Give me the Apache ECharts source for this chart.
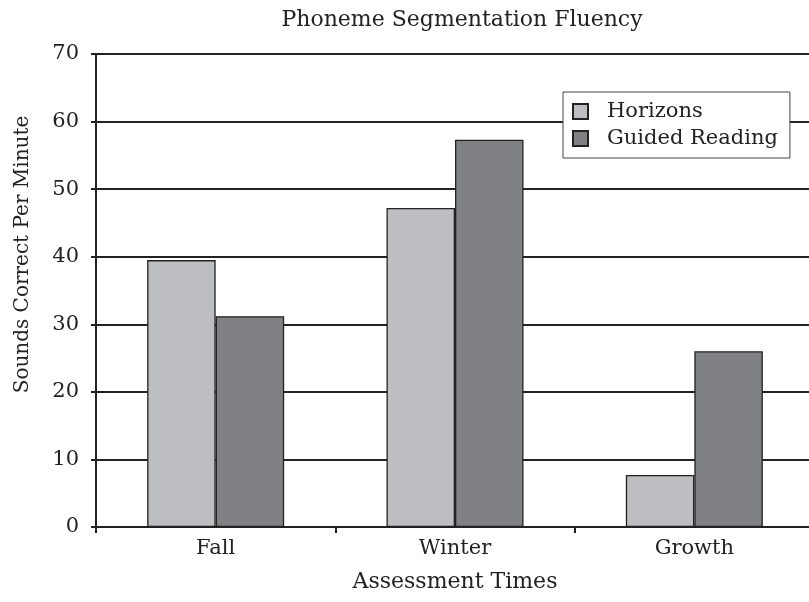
<!DOCTYPE html>
<html><head><meta charset="utf-8">
<script src="https://cdn.jsdelivr.net/npm/echarts@6/dist/echarts.min.js"></script>
<style>html,body{margin:0;padding:0;background:#fff}#c{width:809px;height:602px}</style>
</head><body><div id="c"></div>
<script>
const categories = ['Fall', 'Winter', 'Growth'];
const horizons = [39.5, 47.2, 7.7];
const guidedReading = [31.2, 57.3, 26.0];
const seriesNames = ['Horizons', 'Guided Reading'];
const FONT = 'DejaVu Serif';
const chart = echarts.init(document.getElementById('c'), null, {renderer: 'canvas'});
chart.setOption({
  backgroundColor: '#fff',
  animation: false,
  title: {
    text: 'Phoneme Segmentation Fluency', left: 457, top: 4, textAlign: 'center',
    textStyle: {fontFamily: FONT, fontSize: 22, fontWeight: 'normal', color: '#222'}
  },
  legend: {
    orient: 'vertical', left: 563, top: 92,
    data: seriesNames,
    backgroundColor: '#fff', borderColor: '#444', borderWidth: 1,
    padding: [9, 12, 9, 9], itemGap: 6, itemWidth: 15, itemHeight: 15,
    icon: 'rect',
    textStyle: {fontFamily: FONT, fontSize: 21, color: '#222', padding: [0, 0, 0, 14]}
  },
  grid: {left: 96, right: -5, top: 54, bottom: 75, containLabel: false, outerBoundsMode: 'none'},
  xAxis: {
    type: 'category', data: categories,
    name: 'Assessment Times', nameLocation: 'middle', nameGap: 44,
    nameTextStyle: {fontFamily: FONT, fontSize: 22, color: '#222'},
    axisLine: {lineStyle: {color: '#222', width: 2}},
    axisTick: {show: true, length: 6, lineStyle: {color: '#222', width: 2}},
    axisLabel: {fontFamily: FONT, fontSize: 21, color: '#222', margin: 11}
  },
  yAxis: {
    type: 'value', min: 0, max: 70, interval: 10,
    name: 'Sounds Correct Per Minute', nameLocation: 'middle', nameGap: 63,
    nameTextStyle: {fontFamily: FONT, fontSize: 20, color: '#222', padding: [0, 0, 0, 72]},
    axisLine: {show: true, lineStyle: {color: '#222', width: 2}},
    axisTick: {show: true, length: 5, lineStyle: {color: '#222', width: 2}},
    axisLabel: {fontFamily: FONT, fontSize: 21, color: '#222', margin: 17},
    splitLine: {show: true, lineStyle: {color: '#222', width: 2}}
  },
  series: [
    {name: seriesNames[0], type: 'bar', data: horizons, barWidth: 68.5, barGap: '0%',
     itemStyle: {color: '#bdbec1', borderColor: '#222', borderWidth: 1.3}},
    {name: seriesNames[1], type: 'bar', data: guidedReading, barWidth: 68.5, barGap: '0%',
     itemStyle: {color: '#808184', borderColor: '#222', borderWidth: 1.3}}
  ]
});
</script></body></html>
